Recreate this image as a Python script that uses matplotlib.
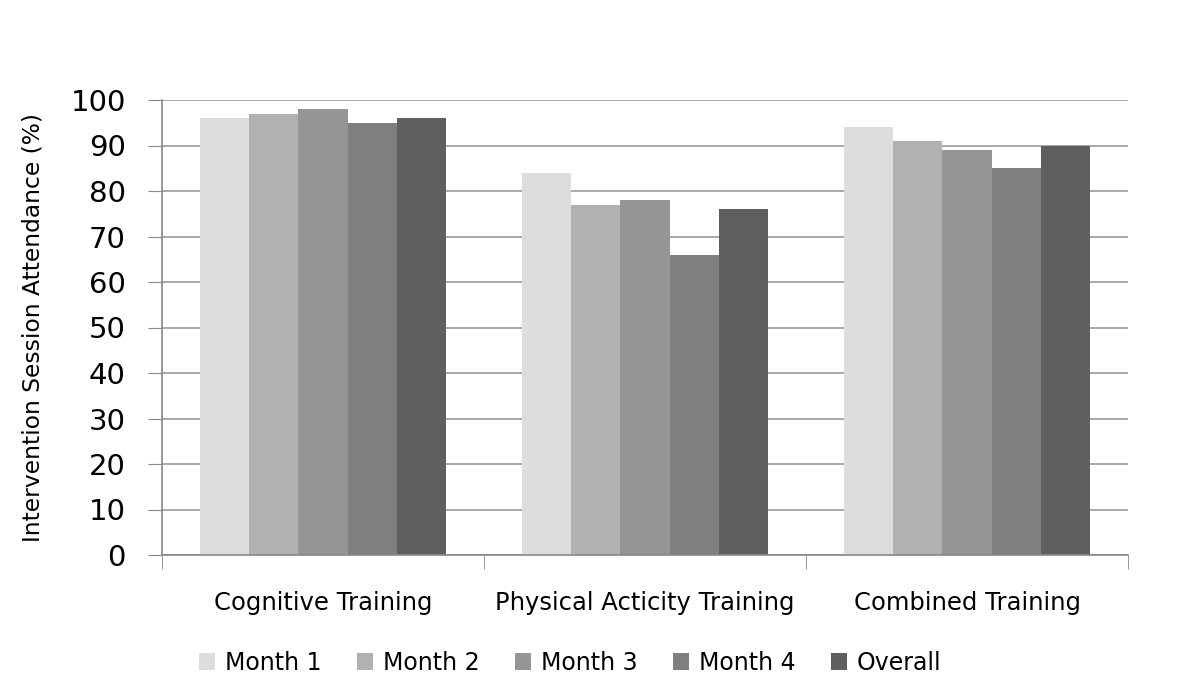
import numpy as np
import matplotlib.pyplot as plt
from matplotlib.ticker import FixedLocator

categories = ["Cognitive Training", "Physical Acticity Training", "Combined Training"]
series = ["Month 1", "Month 2", "Month 3", "Month 4", "Overall"]
month1 = [96, 84, 94]
month2 = [97, 77, 91]
month3 = [98, 78, 89]
month4 = [95, 66, 85]
overall = [96, 76, 90]
yticks = [0, 10, 20, 30, 40, 50, 60, 70, 80, 90, 100]

values = [month1, month2, month3, month4, overall]
colors = ["#dddddd", "#b1b1b1", "#959595", "#7f7f7f", "#5f5f5f"]

fig = plt.figure(figsize=(12, 6.95), dpi=100)
ax = fig.add_axes([162 / 1200, 1 - 555 / 695, (1128 - 162) / 1200, (555 - 100) / 695])

x = np.arange(len(categories))
w = 0.767 / len(series)
for i, (vals, name) in enumerate(zip(values, series)):
    ax.bar(x + (i - 2) * w, vals, w, color=colors[i], label=name, zorder=2)

ax.set_xlim(-0.5, 2.5)
ax.set_ylim(0, 100)
ax.set_yticks(yticks)
ax.set_xticks(x)
ax.set_xticklabels(categories, fontsize=17.5)
ax.xaxis.set_minor_locator(FixedLocator([-0.5, 0.5, 1.5, 2.5]))
ax.tick_params(axis="x", which="major", length=0, pad=26)
ax.tick_params(axis="x", which="minor", length=10, color="#888888", direction="out")
ax.tick_params(axis="y", labelsize=21, length=10, color="#888888", pad=16)

ax.yaxis.grid(True, color="#999999", linewidth=1.2, zorder=0)
for s in ["top", "right"]:
    ax.spines[s].set_visible(False)
for s in ["left", "bottom"]:
    ax.spines[s].set_color("#888888")
    ax.spines[s].set_linewidth(1.2)

ax.set_ylabel("Intervention Session Attendance (%)", fontsize=16.8, labelpad=19)

fig.legend(loc="center", bbox_to_anchor=(0.475, 1 - 663 / 695), ncol=5, frameon=False,
           fontsize=17, handlelength=0.7, handleheight=0.7, handletextpad=0.4,
           columnspacing=1.5)

fig.savefig("out.png", dpi=100)
